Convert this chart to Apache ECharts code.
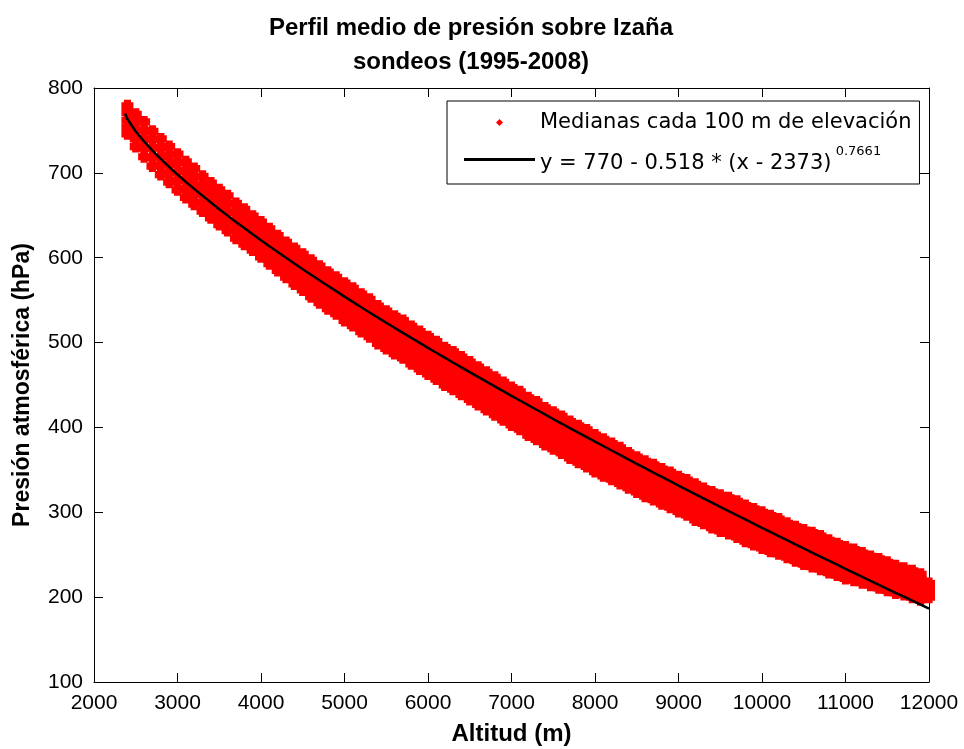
<!DOCTYPE html>
<html><head><meta charset="utf-8">
<script src="https://cdn.jsdelivr.net/npm/echarts@6.0.0/dist/echarts.min.js"></script>
<style>html,body{margin:0;padding:0;background:#fff}#c{width:964px;height:749px}</style>
</head><body><div id="c"></div><script>
// Altitude levels (m), one column of medians every 100 m
const altitudes = [
 2400,2500,2600,2700,2800,2900,3000,3100,3200,3300,
 3400,3500,3600,3700,3800,3900,4000,4100,4200,4300,
 4400,4500,4600,4700,4800,4900,5000,5100,5200,5300,
 5400,5500,5600,5700,5800,5900,6000,6100,6200,6300,
 6400,6500,6600,6700,6800,6900,7000,7100,7200,7300,
 7400,7500,7600,7700,7800,7900,8000,8100,8200,8300,
 8400,8500,8600,8700,8800,8900,9000,9100,9200,9300,
 9400,9500,9600,9700,9800,9900,10000,10100,10200,10300,
 10400,10500,10600,10700,10800,10900,11000,11100,11200,11300,
 11400,11500,11600,11700,11800,11900,12000];
const pTop = [
 779,769,760,749,740,731,722,713,705,696,
 688,680,673,664,657,649,642,634,626,618,
 611,604,597,590,583,577,570,564,557,551,
 543,537,531,526,519,513,507,501,494,489,
 483,477,471,465,459,453,447,442,435,430,
 423,418,413,407,402,397,391,386,381,376,
 370,365,360,356,351,347,342,338,333,328,
 324,320,317,313,308,304,300,296,292,287,
 283,279,276,272,267,263,259,256,252,248,
 245,241,237,234,231,227,216];
const pUpper = [
 771,760,750,739,730,721,712,703,695,686,
 678,670,663,654,647,639,632,624,616,608,
 601,594,586,579,572,566,559,553,546,540,
 532,526,520,515,508,502,496,490,483,478,
 472,466,460,454,448,442,436,431,424,419,
 412,407,402,396,391,386,380,375,371,366,
 360,355,350,346,341,337,332,328,323,318,
 314,310,307,303,298,294,290,286,282,277,
 273,269,266,262,258,254,250,247,243,240,
 237,233,229,226,223,220,212];
const pMiddle = [
 762,750,740,729,719,710,701,692,684,676,
 668,660,653,644,637,629,622,614,606,598,
 590,583,576,569,562,556,548,542,535,529,
 521,515,509,504,497,491,485,479,472,467,
 461,455,449,443,437,431,425,420,413,408,
 402,397,392,386,381,376,370,365,360,355,
 350,345,340,336,331,327,322,318,312,308,
 303,299,296,292,287,283,279,275,272,267,
 263,259,256,253,248,245,241,238,235,231,
 228,225,221,219,216,212,208];
const pLower = [
 754,740,729,718,709,700,691,682,674,665,
 657,649,642,633,626,619,611,603,595,587,
 580,573,565,558,551,545,537,531,524,518,
 510,504,498,493,486,480,474,468,461,456,
 450,444,438,432,426,420,414,409,402,397,
 391,386,381,375,370,365,359,354,350,345,
 339,334,329,325,320,316,311,307,302,297,
 293,289,286,282,277,273,269,265,261,257,
 253,249,246,243,239,235,231,229,226,223,
 220,216,213,211,208,205,204];
const pBottom = [
 746,731,719,708,698,689,680,671,663,655,
 647,639,632,623,616,609,601,593,585,577,
 569,562,554,547,540,534,526,520,513,507,
 499,493,487,482,475,469,463,457,450,445,
 439,433,427,421,415,409,403,398,391,386,
 380,375,370,364,359,354,348,343,339,334,
 329,324,319,315,310,306,301,297,291,287,
 282,278,275,271,266,262,258,254,251,247,
 243,239,236,233,229,226,222,220,217,214,
 211,208,205,203,200,197,200];
// Fitted curve (hPa), starting at 2373 m
const fitStartAlt = 2373;
const fitStartP = 770;
const fitP = [
 763.5,748.8,737.0,726.3,716.4,707.0,698.0,689.4,681.1,673.0,
 665.0,657.2,649.6,642.2,634.9,627.7,620.6,613.6,606.7,599.9,
 593.2,586.5,579.9,573.4,567.0,560.6,554.2,547.9,541.7,535.5,
 529.4,523.4,517.4,511.5,505.6,499.7,493.8,488.0,482.3,476.5,
 470.8,465.1,459.5,453.9,448.3,442.8,437.2,431.7,426.2,420.8,
 415.3,409.9,404.6,399.2,393.9,388.6,383.3,378.1,372.8,367.6,
 362.3,357.1,352.0,346.8,341.7,336.6,331.5,326.5,321.4,316.4,
 311.4,306.4,301.5,296.5,291.6,286.6,281.7,276.8,272.0,267.1,
 262.3,257.4,252.6,247.8,243.0,238.2,233.4,228.7,224.0,219.2,
 214.5,209.8,205.1,200.5,195.8,191.1,186.4];
// Axis ticks
const xMin = 2000, xMax = 12000, xStep = 1000;
const yMin = 100, yMax = 800, yStep = 100;
// Texts
const titleLine1 = 'Perfil medio de presión sobre Izaña';
const titleLine2 = 'sondeos (1995-2008)';
const xName = 'Altitud (m)';
const yName = 'Presión atmosférica (hPa)';
const scatterName = 'Medianas cada 100 m de elevación';
const fitName = 'y = 770 - 0.518 * (x - 2373)';
const fitExponent = '0.7661';

const FONT = '"Liberation Sans", Arial, Helvetica, sans-serif';
const LEGEND_FONT = '"DejaVu Sans", Verdana, sans-serif';
const scatterData = [];
[pTop, pUpper, pMiddle, pLower, pBottom].forEach(row => row.forEach((v, i) => scatterData.push([altitudes[i], v])));
const lineData = [[fitStartAlt, fitStartP]].concat(fitP.map((v, i) => [altitudes[i], v]));

const PLUS = 'path://M2,0H8V2H10V8H8V10H2V8H0V2H2Z';
const DIAMOND_ICON = 'path://M0,0M20,20M10,5L15,10L10,15L5,10Z';
const LINE_ICON = 'path://M0,0H71V3H0Z';

const axisCommon = {
  axisLine: {show: true, onZero: false, lineStyle: {color: '#000', width: 1}},
  axisTick: {show: true, inside: true, length: 9, lineStyle: {color: '#000', width: 1}},
  splitLine: {show: false}
};
const plain = v => String(v);
const chart = echarts.init(document.getElementById('c'), null, {renderer: 'canvas'});
chart.setOption({
  animation: false,
  backgroundColor: '#fff',
  title: {
    text: titleLine1 + '\n' + titleLine2,
    left: 471, top: 11, padding: 0, textAlign: 'center',
    textStyle: {fontFamily: FONT, fontWeight: 'bold', fontSize: 24, lineHeight: 34, color: '#000'}
  },
  grid: {left: 94, right: 35, top: 88, bottom: 67, containLabel: false, outerBoundsMode: 'none'},
  xAxis: [
    Object.assign({
      type: 'value', position: 'bottom', min: xMin, max: xMax, interval: xStep,
      name: xName, nameLocation: 'middle', nameGap: 40,
      nameTextStyle: {fontFamily: FONT, fontWeight: 'bold', fontSize: 24, color: '#000'},
      axisLabel: {margin: 11, fontFamily: FONT, fontSize: 21, color: '#000', formatter: plain, hideOverlap: false, showMinLabel: true, showMaxLabel: true}
    }, axisCommon),
    Object.assign({
      type: 'value', position: 'top', min: xMin, max: xMax, interval: xStep,
      axisLabel: {show: false}
    }, axisCommon)
  ],
  yAxis: [
    Object.assign({
      type: 'value', position: 'left', min: yMin, max: yMax, interval: yStep,
      name: yName, nameLocation: 'middle', nameGap: 60,
      nameTextStyle: {fontFamily: FONT, fontWeight: 'bold', fontSize: 23, color: '#000'},
      axisLabel: {margin: 11, fontFamily: FONT, fontSize: 21, color: '#000', formatter: plain, hideOverlap: false, showMinLabel: true, showMaxLabel: true}
    }, axisCommon),
    Object.assign({
      type: 'value', position: 'right', min: yMin, max: yMax, interval: yStep,
      axisLabel: {show: false}
    }, axisCommon)
  ],
  legend: {
    orient: 'vertical', left: 447, top: 101,
    padding: [11, 8, 10, 17], itemGap: 12, itemWidth: 71, itemHeight: 14,
    backgroundColor: '#fff', borderColor: '#000', borderWidth: 1, borderRadius: 0,
    data: [{name: scatterName, icon: DIAMOND_ICON}, {name: fitName, icon: LINE_ICON}],
    formatter: function (n) { return n === fitName ? '{m|' + n + '}{sup| ' + fitExponent + '}' : '{m|' + n + '}'; },
    textStyle: {
      fontFamily: LEGEND_FONT, fontSize: 21, color: '#000',
      rich: {
        m: {fontFamily: LEGEND_FONT, fontSize: 21, color: '#000', verticalAlign: 'bottom'},
        sup: {fontFamily: LEGEND_FONT, fontSize: 13, color: '#000', verticalAlign: 'bottom', padding: [0, 0, 16, 0]}
      }
    }
  },
  series: [
    {
      type: 'scatter', name: scatterName, xAxisIndex: 0, yAxisIndex: 0,
      data: scatterData, symbol: PLUS, symbolSize: 12, clip: false,
      itemStyle: {color: '#ff0000', opacity: 1}, emphasis: {disabled: true}, z: 2
    },
    {
      type: 'line', name: fitName, xAxisIndex: 0, yAxisIndex: 0,
      data: lineData, symbol: 'none', showSymbol: false, clip: false,
      lineStyle: {color: '#000', width: 2.5}, itemStyle: {color: '#000'}, emphasis: {disabled: true}, z: 3
    }
  ]
});
</script></body></html>
